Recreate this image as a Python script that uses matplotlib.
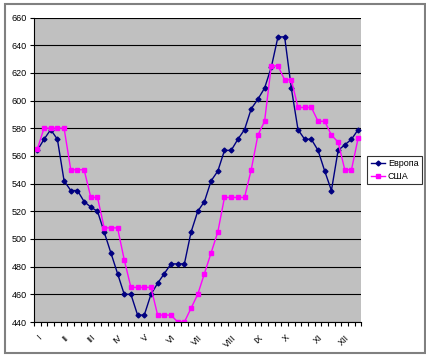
import numpy as np
import matplotlib.pyplot as plt
from matplotlib.patches import Rectangle

plt.rcParams['font.family'] = ['Liberation Sans', 'DejaVu Sans']

# weekly values, 49 points
europe = [564, 572, 579, 572, 542, 535, 535, 527, 523, 520,
          505, 490, 475, 460, 460, 445, 445, 460, 468, 475,
          482, 482, 482, 505, 520, 527, 542, 549, 564, 564,
          572, 579, 594, 601, 609, 624, 646, 646, 609, 579,
          572, 572, 564, 549, 535, 564, 568, 572, 579]
usa = [565, 580, 580, 580, 580, 550, 550, 550, 530, 530,
       508, 508, 508, 485, 465, 465, 465, 465, 445, 445,
       445, 440, 440, 450, 460, 475, 490, 505, 530, 530,
       530, 530, 550, 575, 585, 625, 625, 615, 615, 595,
       595, 595, 585, 585, 575, 570, 550, 550, 573]
month_labels = ['I', 'II', 'III', 'IV', 'V', 'VI', 'VII', 'VIII', 'IX', 'X', 'XI', 'XII']
month_pos = [0, 4, 8, 12, 16, 20, 24, 29, 33, 37, 42, 46]

W, H = 427, 361
fig = plt.figure(figsize=(W / 100, H / 100), dpi=100)
fig.patches.append(Rectangle((5 / W, 1 - 353 / H), 420 / W, 349 / H,
                             transform=fig.transFigure, fill=False,
                             edgecolor='#808080', lw=1.5))

ax = fig.add_axes([34 / W, 1 - 322 / H, 327.5 / W, 304.5 / H])
ax.set_facecolor('#C0C0C0')
x = np.arange(len(europe))
ax.plot(x, europe, color='#000080', marker='D', markersize=2.5, lw=1, label='Европа')
ax.plot(x, usa, color='#FF00FF', marker='s', markersize=3, lw=1, label='США')

ax.set_xlim(-0.5, len(europe) - 0.5)
ax.set_ylim(440, 660)
ax.set_yticks(np.arange(440, 661, 20))
ax.yaxis.grid(True, color='black', lw=0.8)
ax.set_axisbelow(True)
for s in ['top', 'right']:
    ax.spines[s].set_visible(False)
ax.spines['left'].set_color('black')
ax.spines['bottom'].set_color('black')

ax.set_xticks(month_pos)
ax.set_xticklabels(month_labels, rotation=45, ha='right', va='top', rotation_mode='anchor')
ax.set_xticks(np.arange(-0.5, len(europe)), minor=True)
ax.tick_params(axis='x', which='major', length=0, pad=8, labelsize=6.5)
ax.tick_params(axis='x', which='minor', length=3, direction='out', width=0.8)
ax.tick_params(axis='y', length=3, direction='out', labelsize=6.5, pad=2)

leg = fig.legend(loc='center left', bbox_to_anchor=(367 / W, 1 - 170 / H),
                 fontsize=6.5, frameon=True, fancybox=False, edgecolor='black',
                 handlelength=1.6, borderpad=0.4, labelspacing=0.4, handletextpad=0.3,
                 borderaxespad=0)
leg.get_frame().set_linewidth(0.8)

fig.savefig('out.png', dpi=100)
